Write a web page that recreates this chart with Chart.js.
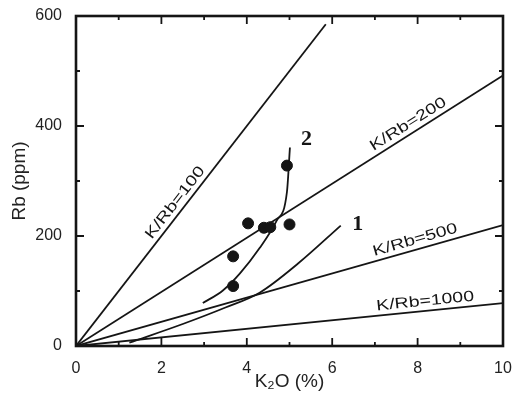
<!DOCTYPE html>
<html>
<head>
<meta charset="utf-8">
<script src="https://cdn.jsdelivr.net/npm/chart.js@4/dist/chart.umd.min.js"></script>
<style>
  body { margin: 0; background: #fff; }
</style>
</head>
<body>
<canvas id="chart" width="513" height="405"></canvas>
<script>
// Reference lines of constant K/Rb, drawn from the origin to an end point
const ratioNames = ['K/Rb=100', 'K/Rb=200', 'K/Rb=500', 'K/Rb=1000'];
const ratioEndK2O = [5.85, 10, 10, 10];
const ratioEndRb = [585, 492, 220, 78];

// Trend curves 1 and 2
const curve1K2O = [1.25, 2.5, 3.5, 4.3, 5.2, 6.2];
const curve1Rb = [6, 40, 70, 97, 150, 219];
const curve2K2O = [2.97, 3.44, 3.84, 4.3, 4.7, 4.94, 5.01];
const curve2Rb = [78, 101, 132, 178, 228, 280, 361];

// Samples
const sampleK2O = [3.68, 3.68, 4.03, 4.4, 4.55, 5.0, 4.94];
const sampleRb = [109, 163, 223, 215, 216, 221, 328];

// Axis ticks
const xTicks = [0, 2, 4, 6, 8, 10];
const yTicks = [0, 200, 400, 600];

const ink = '#151515';
const font = 'Liberation Sans, Arial, sans-serif';

function toPoints(xs, ys) {
    return xs.map((x, i) => ({ x: x, y: ys[i] }));
}

const datasets = [];

ratioNames.forEach((name, i) => {
    datasets.push({
        label: name,
        type: 'line',
        data: [{ x: 0, y: 0 }, { x: ratioEndK2O[i], y: ratioEndRb[i] }],
        borderColor: ink,
        borderWidth: 1.8,
        pointRadius: 0,
        fill: false
    });
});

[[curve1K2O, curve1Rb, '1'], [curve2K2O, curve2Rb, '2']].forEach(c => {
    datasets.push({
        label: 'curve ' + c[2],
        type: 'line',
        data: toPoints(c[0], c[1]),
        borderColor: ink,
        borderWidth: 1.8,
        pointRadius: 0,
        cubicInterpolationMode: 'monotone',
        fill: false
    });
});

datasets.push({
    label: 'samples',
    type: 'scatter',
    data: toPoints(sampleK2O, sampleRb),
    backgroundColor: ink,
    borderColor: ink,
    pointRadius: 5.5
});

// Box frame with inward ticks on all four sides
const framePlugin = {
    id: 'frame',
    afterDatasetsDraw(chart) {
        const { ctx, chartArea: a, scales } = chart;
        ctx.save();
        ctx.strokeStyle = ink;
        ctx.lineWidth = 1.8;
        ctx.beginPath();
        for (let v = 0; v <= 10; v++) {
            const px = scales.x.getPixelForValue(v);
            const len = v % 2 === 0 ? 8 : 4;
            ctx.moveTo(px, a.bottom); ctx.lineTo(px, a.bottom - len);
            ctx.moveTo(px, a.top); ctx.lineTo(px, a.top + len);
        }
        for (let v = 0; v <= 600; v += 100) {
            const py = scales.y.getPixelForValue(v);
            const len = v % 200 === 0 ? 8 : 4;
            ctx.moveTo(a.left, py); ctx.lineTo(a.left + len, py);
            ctx.moveTo(a.right, py); ctx.lineTo(a.right - len, py);
        }
        ctx.stroke();
        ctx.lineWidth = 2.6;
        ctx.strokeRect(a.left, a.top, a.right - a.left, a.bottom - a.top);
        ctx.restore();
    }
};

// Text along the K/Rb lines and the curve numbers
const labelPlugin = {
    id: 'lineLabels',
    afterDatasetsDraw(chart, args, opts) {
        const { ctx, scales } = chart;
        const sx = scales.x, sy = scales.y;
        ctx.save();
        ctx.fillStyle = ink;
        ratioNames.forEach((name, i) => {
            const x0 = sx.getPixelForValue(0), y0 = sy.getPixelForValue(0);
            const x1 = sx.getPixelForValue(ratioEndK2O[i]);
            const y1 = sy.getPixelForValue(ratioEndRb[i]);
            const angle = Math.atan2(y1 - y0, x1 - x0);
            const k = opts.ratioAt[i];
            const px = sx.getPixelForValue(k);
            const py = sy.getPixelForValue(ratioEndRb[i] / ratioEndK2O[i] * k);
            ctx.save();
            ctx.translate(px, py);
            ctx.rotate(angle);
            ctx.scale(1.3, 1);
            ctx.font = '15px ' + font;
            ctx.textAlign = 'center';
            ctx.textBaseline = 'bottom';
            ctx.fillText(name, 0, -2);
            ctx.restore();
        });
        ctx.font = 'bold 22px Liberation Serif, DejaVu Serif, serif';
        ctx.textAlign = 'center';
        ctx.textBaseline = 'middle';
        opts.curveTags.forEach(t => {
            ctx.fillText(t.text, sx.getPixelForValue(t.x), sy.getPixelForValue(t.y));
        });
        ctx.restore();
    }
};

new Chart(document.getElementById('chart'), {
    type: 'scatter',
    data: { datasets: datasets },
    options: {
        responsive: false,
        animation: false,
        layout: { padding: { left: 3, right: 10, top: 16, bottom: 8 } },
        plugins: {
            legend: { display: false },
            tooltip: { enabled: false },
            lineLabels: {
                ratioAt: [2.5, 7.9, 8.0, 8.2],
                curveTags: [{ text: '1', x: 6.6, y: 222 }, { text: '2', x: 5.4, y: 375 }]
            }
        },
        scales: {
            x: {
                type: 'linear',
                min: 0,
                max: 10,
                afterBuildTicks: s => { s.ticks = xTicks.map(v => ({ value: v })); },
                afterFit: s => { s.height = 51; s.paddingLeft = 0; s.paddingRight = 0; },
                grid: { display: false, drawTicks: false },
                border: { display: false },
                ticks: { padding: 13, color: '#222', font: { family: font, size: 16 } },
                title: {
                    display: true,
                    text: 'K₂O (%)',
                    color: '#222',
                    font: { family: font, size: 19 },
                    padding: { top: 0, bottom: 4 }
                }
            },
            y: {
                type: 'linear',
                min: 0,
                max: 600,
                afterBuildTicks: s => { s.ticks = yTicks.map(v => ({ value: v })); },
                afterFit: s => { s.width = 73; s.paddingTop = 0; s.paddingBottom = 0; },
                grid: { display: false, drawTicks: false },
                border: { display: false },
                ticks: { padding: 14, color: '#222', font: { family: font, size: 16 } },
                title: {
                    display: true,
                    text: 'Rb (ppm)',
                    color: '#222',
                    font: { family: font, size: 19 },
                    padding: { top: 5, bottom: 0 }
                }
            }
        }
    },
    plugins: [framePlugin, labelPlugin]
});
</script>
</body>
</html>
